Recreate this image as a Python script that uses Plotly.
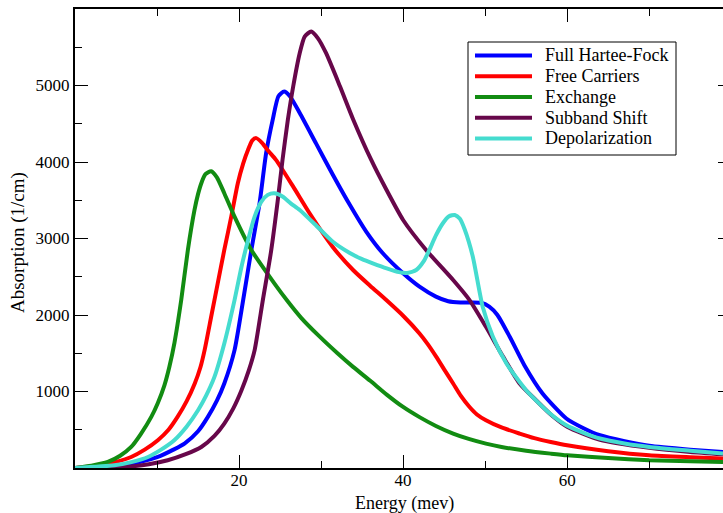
import plotly.graph_objects as go

# Absorption spectra (1/cm) versus photon energy (meV)
hf_x = [0, 3, 6.0, 8, 10.1, 12, 13.35, 15, 16.2, 17.3, 18.2, 19.45, 20.5, 21.5, 22.5,
        23.3, 24.1, 24.8, 25.5, 26.2, 27.4, 29.4, 31.4, 33.5, 35.5, 37.5, 40, 42,
        44, 45.5, 47, 49.5, 50.5, 51.5, 53, 54.8, 57, 59.9, 62, 64, 67, 70, 75, 79]
hf_y = [0, 10, 35, 80, 144, 240, 319, 480, 668, 880, 1105, 1541, 2195, 2850, 3461,
        4116, 4551, 4860, 4922, 4860, 4640, 4240, 3840, 3440, 3090, 2810, 2545, 2370,
        2240, 2180, 2163, 2160, 2110, 2000, 1715, 1340, 974, 647, 520, 428, 350, 290,
        240, 209]

free_x = [0, 3.2, 5, 6.85, 8.5, 10.1, 11.4, 12.5, 13.6, 14.6, 15.3, 15.8, 16.6, 17.4,
          18.2, 19.05, 19.85, 20.5, 21.1, 21.6, 22.1, 22.8, 23.6, 24.5, 26.6, 28.6,
          31.4, 33.9, 36, 37.95, 40, 42, 43, 44.05, 45, 46.1, 47, 48.1, 49, 50.1, 52,
          54.2, 56, 58, 60, 65, 70, 75, 79]
free_y = [0, 35, 80, 144, 240, 363, 500, 668, 870, 1105, 1320, 1541, 1977, 2414,
          2850, 3286, 3723, 3980, 4159, 4280, 4312, 4250, 4140, 4028, 3678, 3330,
          2893, 2588, 2380, 2195, 1990, 1759, 1620, 1453, 1290, 1105, 950, 798, 700,
          624, 530, 450, 390, 340, 297, 220, 166, 140, 123]

exch_x = [0, 2, 4, 5.5, 6.85, 8, 9.3, 10.1, 10.9, 11.5, 12.13, 12.95, 13.76, 14.57,
          15.0, 15.4, 15.9, 16.6, 17.3, 18.2, 19.45, 21.5, 24.3, 26, 27.6, 29.8, 32,
          33.9, 36, 38, 40, 42, 44, 46.1, 48, 50.1, 52, 55, 58, 60, 65, 70, 75, 79]
exch_y = [0, 30, 79, 160, 275, 440, 668, 850, 1080, 1320, 1640, 2195, 2850, 3373,
          3580, 3723, 3840, 3880, 3800, 3592, 3286, 2850, 2414, 2170, 1960, 1720,
          1500, 1322, 1140, 960, 798, 665, 550, 450, 380, 319, 275, 225, 188, 166,
          130, 101, 88, 78]

sub_x = [0, 6, 9, 11.3, 13.5, 15.4, 17, 18.2, 19.3, 20.3, 21.2, 21.9, 22.9, 23.9,
         24.7, 25.3, 25.95, 26.6, 27.4, 28.0, 28.8, 29.6, 30.6, 32.3, 33.9, 36.1, 38,
         40, 42.8, 46.1, 48.1, 50.1, 52.2, 54.2, 56.2, 58, 60, 64, 70, 75, 79]
sub_y = [0, 13, 50, 101, 180, 275, 420, 581, 780, 1017, 1280, 1541, 2195, 2830,
         3480, 4028, 4551, 4987, 5425, 5640, 5707, 5620, 5425, 4990, 4560, 4030,
         3630, 3242, 2850, 2457, 2195, 1846, 1453, 1105, 886, 700, 540, 370, 265,
         210, 180]

depol_x = [0, 4.8, 7, 8.9, 10.5, 12.1, 13.6, 15.0, 16.0, 17.0, 18.2, 19.45, 20.3,
           21.1, 21.9, 22.7, 23.5, 24.3, 25.3, 26.3, 27.4, 29.4, 31.4, 33.5, 35,
           36.3, 38, 39.5, 40.5, 41.6, 42.5, 43.2, 44.0, 44.85, 45.6, 46.3, 46.9,
           47.5, 48.5, 49.7, 50.95, 52.6, 55.0, 57.9, 59.9, 62, 64, 67, 70, 75, 79]
depol_y = [0, 35, 80, 144, 240, 363, 540, 755, 950, 1191, 1628, 2195, 2631, 2981,
           3286, 3480, 3570, 3592, 3550, 3460, 3373, 3170, 2960, 2810, 2730, 2676,
           2610, 2560, 2550, 2588, 2700, 2850, 3040, 3199, 3290, 3308, 3260, 3120,
           2762, 2107, 1715, 1366, 1017, 712, 559, 460, 385, 320, 275, 225, 188]

series_names = ["Full Hartee-Fock", "Free Carriers", "Exchange",
                "Subband Shift", "Depolarization"]
series_x = [hf_x, free_x, exch_x, sub_x, depol_x]
series_y = [hf_y, free_y, exch_y, sub_y, depol_y]
series_colors = ["#0000ff", "#ff0000", "#128c12", "#67074a", "#45dccf"]

x_tick_vals = [20, 40, 60]
x_minor_vals = [10, 30, 50, 70]
y_tick_vals = [1000, 2000, 3000, 4000, 5000]
y_minor_vals = [500, 1500, 2500, 3500, 4500, 5500]

FONT = "Liberation Serif, DejaVu Serif, Times New Roman, serif"

W, H = 723, 513
M_L, M_R, M_T, M_B = 75, 0, 9, 45
PW, PH = W - M_L - M_R, H - M_T - M_B


def px(xp):
    """pixel column -> paper x"""
    return (xp - M_L) / PW


def py(yp):
    """pixel row -> paper y"""
    return (H - M_B - yp) / PH


fig = go.Figure()
for name, xs, ys, col in zip(series_names, series_x, series_y, series_colors):
    fig.add_trace(go.Scatter(
        x=xs, y=ys, name=name, mode="lines",
        line=dict(color=col, width=4, shape="spline", smoothing=0.6),
        showlegend=False,
    ))

# invisible trace anchoring the right-hand tick axis
fig.add_trace(go.Scatter(x=[0], y=[0], yaxis="y2", mode="lines",
                         showlegend=False, hoverinfo="skip",
                         line=dict(width=0)))

axis_common = dict(
    showgrid=False, zeroline=False, showline=True, linecolor="black",
    linewidth=2, ticks="inside", tickcolor="black", tickwidth=1.3,
    ticklen=13, tickfont=dict(family=FONT, size=17, color="black"),
)

# boxed legend in the upper right of the plot
shapes = [dict(type="rect", xref="paper", yref="paper",
               x0=px(468), x1=px(676), y0=py(155), y1=py(42),
               line=dict(color="black", width=1), fillcolor="white", layer="above")]
annotations = []
row_y = [55.5, 76.3, 97, 117.8, 138.5]
for name, col, ry in zip(series_names, series_colors, row_y):
    shapes.append(dict(type="line", xref="paper", yref="paper",
                       x0=px(475), x1=px(532), y0=py(ry), y1=py(ry),
                       line=dict(color=col, width=4), layer="above"))
    annotations.append(dict(text=name, xref="paper", yref="paper",
                            x=px(543), y=py(ry), xanchor="left", yanchor="middle",
                            showarrow=False,
                            font=dict(family=FONT, size=18, color="black")))

# axis titles
annotations.append(dict(text="Energy (mev)", xref="paper", yref="paper",
                        x=px(404), y=py(503), xanchor="center", yanchor="middle",
                        showarrow=False,
                        font=dict(family=FONT, size=18, color="black")))
annotations.append(dict(text="Absorption (1/cm)", xref="paper", yref="paper",
                        x=px(18), y=py(243), xanchor="center", yanchor="middle",
                        textangle=-90, showarrow=False,
                        font=dict(family=FONT, size=19, color="black")))

fig.update_layout(
    width=W, height=H,
    margin=dict(l=M_L, r=M_R, t=M_T, b=M_B),
    paper_bgcolor="white", plot_bgcolor="white",
    font=dict(family=FONT, color="black"),
    xaxis=dict(
        range=[0, 79], tickmode="array", tickvals=x_tick_vals,
        ticktext=[str(v) for v in x_tick_vals], mirror="ticks",
        ticklabelstandoff=-4,
        minor=dict(tickmode="array", tickvals=x_minor_vals, ticks="inside",
                   ticklen=7, tickcolor="black", tickwidth=1.3),
        **axis_common,
    ),
    yaxis=dict(
        range=[0, 6000], tickmode="array", tickvals=y_tick_vals,
        ticktext=[str(v) for v in y_tick_vals],
        minor=dict(tickmode="array", tickvals=y_minor_vals, ticks="inside",
                   ticklen=7, tickcolor="black", tickwidth=1.3),
        **axis_common,
    ),
    yaxis2=dict(
        overlaying="y", side="right", range=[0, 6000], tickmode="array",
        tickvals=y_tick_vals, showticklabels=False, showgrid=False,
        zeroline=False, showline=False, ticks="inside", ticklen=5,
        tickcolor="black", tickwidth=1.3,
    ),
    shapes=shapes,
    annotations=annotations,
    showlegend=False,
)

fig.write_html("out.html")
